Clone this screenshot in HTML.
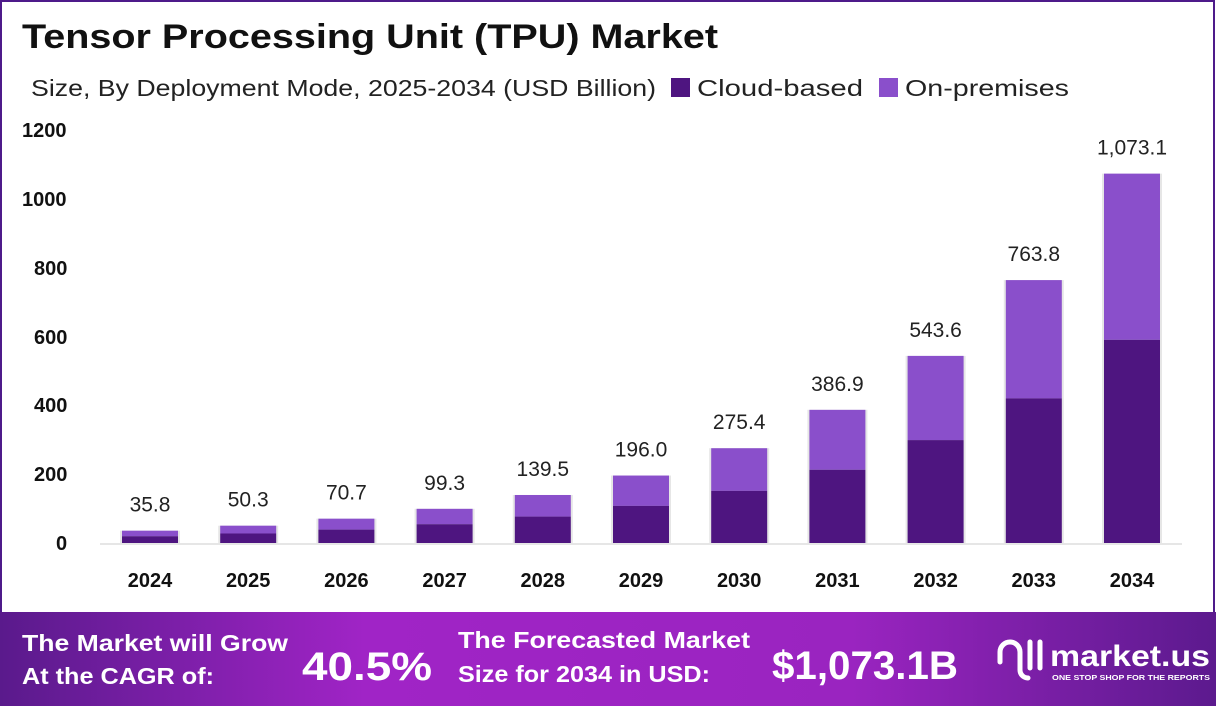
<!DOCTYPE html>
<html><head><meta charset="utf-8"><style>
html,body{margin:0;padding:0;}
body{width:1216px;height:706px;overflow:hidden;background:#fff;font-family:"Liberation Sans",sans-serif;position:relative;}
</style></head><body>
<svg width="1216" height="706" xmlns="http://www.w3.org/2000/svg" font-family="Liberation Sans, sans-serif" style="position:absolute;left:0;top:0">
<rect x="1" y="1" width="1213" height="704" fill="#fff" stroke="#4e1a8a" stroke-width="2"/>
<text x="22" y="48" font-size="34" font-weight="bold" fill="#111" textLength="696" lengthAdjust="spacingAndGlyphs">Tensor Processing Unit (TPU) Market</text>
<text x="31" y="96" font-size="23" fill="#222" textLength="625" lengthAdjust="spacingAndGlyphs">Size, By Deployment Mode, 2025-2034 (USD Billion)</text>
<rect x="671" y="78" width="19" height="19" fill="#4e1580"/>
<text x="697" y="96" font-size="23" fill="#222" textLength="166" lengthAdjust="spacingAndGlyphs">Cloud-based</text>
<rect x="879" y="78" width="19" height="19" fill="#8a4fcb"/>
<text x="905" y="96" font-size="23" fill="#222" textLength="164" lengthAdjust="spacingAndGlyphs">On-premises</text>
<g font-size="20" font-weight="bold" fill="#111">
<text x="22" y="137">1200</text><text x="22" y="206">1000</text><text x="34" y="275">800</text>
<text x="34" y="344">600</text><text x="34" y="412">400</text><text x="34" y="481">200</text><text x="56" y="550">0</text>
</g>
<line x1="100" y1="544" x2="1182" y2="544" stroke="#ccc" stroke-width="1"/>
<g id="bars"></g>
</svg>
<script>
(function(){
var vals=[35.8,50.3,70.7,99.3,139.5,196.0,275.4,386.9,543.6,763.8,1073.1];
var labs=["35.8","50.3","70.7","99.3","139.5","196.0","275.4","386.9","543.6","763.8","1,073.1"];
var g=document.getElementById('bars');var s="";
for(var i=0;i<11;i++){
 var cx=150+i*98.2,x=cx-28,h=vals[i]*0.3442,ty=543-h,ch=h*0.55;
 s+='<rect x="'+(x-2)+'" y="'+ty+'" width="60" height="'+h+'" fill="#e6e6e6"/>';
 s+='<rect x="'+x+'" y="'+ty+'" width="56" height="'+(h-ch)+'" fill="#8a4fcb"/>';
 s+='<rect x="'+x+'" y="'+(543-ch)+'" width="56" height="'+ch+'" fill="#4e1580"/>';
 s+='<text x="'+cx+'" y="'+(ty-19)+'" font-size="21" fill="#222" text-anchor="middle">'+labs[i]+'</text>';
 s+='<text x="'+cx+'" y="587" font-size="20" font-weight="bold" fill="#111" text-anchor="middle">'+(2024+i)+'</text>';
}
g.innerHTML=s;
})();
</script>
<svg width="1216" height="94" style="position:absolute;left:0;top:612px" xmlns="http://www.w3.org/2000/svg" font-family="Liberation Sans, sans-serif">
<defs><linearGradient id="bg2" x1="0" x2="1"><stop offset="0" stop-color="#5a1a8c"/><stop offset="0.3" stop-color="#a024c6"/><stop offset="0.7" stop-color="#9a24c0"/><stop offset="1" stop-color="#5c1a8e"/></linearGradient></defs>
<rect x="0" y="0" width="1216" height="94" fill="url(#bg2)"/>
<g fill="#fff" font-weight="bold">
<text x="22" y="39" font-size="23" textLength="266" lengthAdjust="spacingAndGlyphs">The Market will Grow</text>
<text x="22" y="72" font-size="23" textLength="192" lengthAdjust="spacingAndGlyphs">At the CAGR of:</text>
<text x="302" y="68" font-size="40" textLength="130" lengthAdjust="spacingAndGlyphs">40.5%</text>
<text x="458" y="36" font-size="23" textLength="292" lengthAdjust="spacingAndGlyphs">The Forecasted Market</text>
<text x="458" y="70" font-size="23" textLength="252" lengthAdjust="spacingAndGlyphs">Size for 2034 in USD:</text>
<text x="772" y="67" font-size="40" textLength="186" lengthAdjust="spacingAndGlyphs">$1,073.1B</text>
<text x="1050" y="54" font-size="30" textLength="160" lengthAdjust="spacingAndGlyphs">market.us</text>
<text x="1052" y="68" font-size="7" textLength="158" lengthAdjust="spacingAndGlyphs">ONE STOP SHOP FOR THE REPORTS</text>
</g>
<g fill="none" stroke="#fff" stroke-width="5" stroke-linecap="round">
<path d="M1000 50 v-10 a10 10 0 0 1 20 0 v18 a8 8 0 0 0 8 8"/>
<path d="M1030 30 v26"/><path d="M1040 30 v26"/>
</g>
</svg>
</body></html>
